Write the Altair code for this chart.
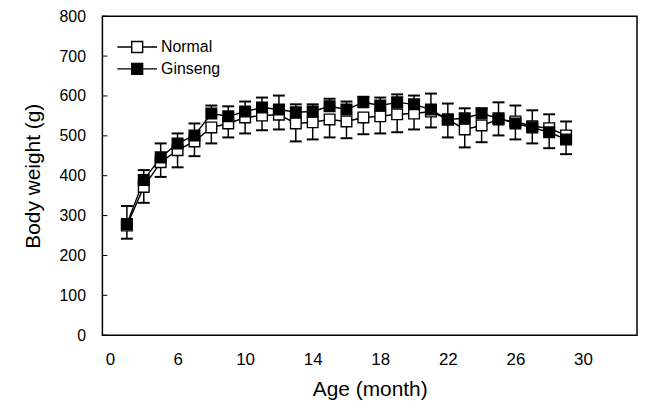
import altair as alt
import pandas as pd

# ---- data ----
months = list(range(3, 30))
normal_mean = [275, 372, 434, 464, 486, 521, 531, 546, 551, 553, 531, 534, 541, 536, 546,
               549, 554, 556, 561, 541, 516, 526, 541, 536, 524, 519, 501]
normal_sd = [33, 40, 37, 43, 37, 40, 35, 40, 37, 37, 45, 43, 45, 42, 42,
             43, 45, 40, 40, 45, 45, 42, 40, 45, 43, 50, 47]
ginseng_mean = [279, 389, 446, 481, 501, 556, 549, 561, 571, 566, 559, 561, 574, 566, 584,
                576, 584, 579, 566, 541, 544, 556, 544, 531, 521, 509, 491]
ginseng_sd = [45, 25, 35, 25, 30, 20, 25, 25, 25, 35, 20, 18, 19, 20, 14,
              20, 20, 22, 40, 40, 25, 13, 40, 45, 43, 45, 45]
series_names = ["Normal", "Ginseng"]
x_tick_values = [2, 6, 10, 14, 18, 22, 26, 30]
y_tick_values = [0, 100, 200, 300, 400, 500, 600, 700, 800]

# Normal: minus error bars only; Ginseng: plus error bars only (as in the figure)
rows = []
for name, means, sds, sign in [("Normal", normal_mean, normal_sd, -1),
                               ("Ginseng", ginseng_mean, ginseng_sd, 1)]:
    for m, v, s in zip(months, means, sds):
        rows.append({"month": m, "weight": v, "end": v + sign * s, "series": name})
df = pd.DataFrame(rows)
ticks_df = pd.DataFrame({"tick": y_tick_values})

FONT = "Liberation Sans"
xscale = alt.Scale(domain=[1.55, 33.2], nice=False, zero=False)
yscale = alt.Scale(domain=[0, 800], nice=False)

x_enc = alt.X("month:Q", scale=xscale, axis=alt.Axis(
    values=x_tick_values, labelExpr="datum.value == 2 ? '0' : datum.label",
    ticks=False, domain=False, grid=False, labelFontSize=17, labelPadding=16,
    title="Age (month)", titleFontSize=21, titleFontWeight="normal", titlePadding=12))
y_enc = alt.Y("weight:Q", scale=yscale, axis=alt.Axis(
    values=y_tick_values, ticks=False, domain=False, grid=False, labelFontSize=16,
    labelPadding=17, title="Body weight (g)", titleFontSize=21,
    titleFontWeight="normal", titlePadding=16))

base = alt.Chart(df)

err = base.mark_rule(color="black", strokeWidth=1.5).encode(
    x=x_enc, y=alt.Y("weight:Q", scale=yscale), y2="end:Q")
cap = base.mark_rule(color="black", strokeWidth=2, xOffset=-6, x2Offset=6).encode(
    x="month:Q", x2="month:Q", y=alt.Y("end:Q", scale=yscale))
lines = base.mark_line(color="black", strokeWidth=1.4).encode(
    x="month:Q", y=y_enc, detail="series:N")

legend_path = "M-1.667,0H-0.458M0.458,0H1.667M-0.458,-0.458H0.458V0.458H-0.458Z"
points = base.mark_square(size=115, stroke="black", strokeWidth=1.4, opacity=1).encode(
    x="month:Q", y="weight:Q",
    fill=alt.Fill("series:N", scale=alt.Scale(domain=series_names, range=["white", "black"]),
                  legend=alt.Legend(orient="none", legendX=22, legendY=18, title=None,
                                    symbolType=legend_path, symbolSize=576,
                                    symbolStrokeColor="black", symbolStrokeWidth=1.4,
                                    labelFontSize=16, labelOffset=11, rowPadding=0,
                                    padding=0, labelFont=FONT, labelColor="black")))

yticks = alt.Chart(ticks_df).mark_rule(color="black", strokeWidth=1).encode(
    x=alt.value(0), x2=alt.value(5), y=alt.Y("tick:Q", scale=yscale))

chart = alt.layer(err, cap, lines, points, yticks).properties(
    width=538, height=321, autosize="none",
    padding={"left": 95, "top": 7, "right": 2, "bottom": 72},
).configure(font=FONT).configure_view(
    stroke="black", strokeWidth=1.5
).configure_axis(labelColor="black", titleColor="black", labelFont=FONT, titleFont=FONT)

chart.save("out.html", embed_options={"renderer": "svg", "actions": False})
